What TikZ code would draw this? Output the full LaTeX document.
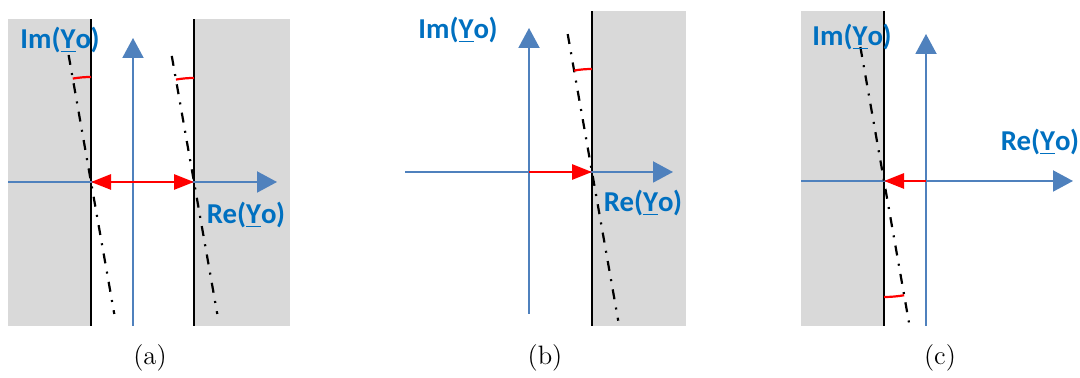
\documentclass[tikz,border=0pt]{standalone}
\usepackage{fontspec}
\usepackage{xcolor}
\usepackage{tikz}
\usetikzlibrary{arrows.meta, calc}
\newfontfamily\calfont{Carlito}
\definecolor{axisblue}{HTML}{4F81BD}
\definecolor{textblue}{HTML}{0070C0}
\definecolor{planegray}{HTML}{D9D9D9}
\def\tilt{10}
\newcommand{\Yo}{(\underline{Y}o)}
\newcommand{\tiltline}[5]{%
% #1 = crossing, #2 = length up, #3 = length down, #4 = arc radius, #5 = arc (1=top, 2=bottom)
\draw[limitline] ($(#1)+(90+\tilt:#2)$) -- ($(#1)+(-90+\tilt:#3)$);
\ifnum#5=1
\draw[anglearc] ($(#1)+(90:#4)$)
arc[start angle=90,end angle=90+\tilt,radius=#4];
\fi

% arc below the real axis
\ifnum#5=2
\draw[anglearc] ($(#1)+(-90:#4)$)
arc[start angle=-90,end angle=-90+\tilt,radius=#4];
\fi
}

\begin{document}
\begin{tikzpicture}[
    x=0.5pt, y=0.5pt,
    planeaxis/.style={axisblue, line width=1pt, -{Triangle[length=10pt,width=10.5pt]}},
    edgeline/.style={black, line width=1pt},
    limitline/.style={black, line width=1.1pt, dash pattern=on 5pt off 4.2pt on 1pt off 4.2pt},
    move/.style={red, line width=1.4pt, -{Triangle[length=10pt,width=7.5pt]}},
    anglearc/.style={red, line width=1.1pt},
    axlabel/.style={textblue, font=\calfont\bfseries\fontsize{14.4}{17}\selectfont, inner sep=0pt},
    caption/.style={font=\fontsize{13.3}{16}\selectfont, inner sep=0pt}
]
\useasboundingbox (0,0) rectangle (1080,378);

% panel (a)
\fill[planegray] (8,52) rectangle (290,359);
\fill[white] (91,52) rectangle (194,359);
\coordinate (Oa) at (133,196);
\coordinate (La) at (91,196);
\coordinate (Ra) at (194,196);
\draw[edgeline] (91,52) -- (91,359);
\draw[edgeline] (194,52) -- (194,359);
\draw[planeaxis] (8,196) -- (277,196);
\draw[planeaxis] (133,52) -- (133,340);
\tiltline{La}{129}{134}{105}{1}
\tiltline{Ra}{128}{134}{104}{1}
\draw[move, yshift=1pt] (Oa) -- (La);
\draw[move, yshift=-0.5pt] (Oa) -- (Ra);
\node[axlabel] (ima) at (60,338) {Im\Yo};
\node[axlabel] (rea) at (246,163) {Re\Yo};
\node[caption] (capa) at (150,20) {(a)};

% panel (b)
\fill[planegray] (592,52) rectangle (686,367);
\coordinate (Ob) at (529,206);
\coordinate (Rb) at (592,206);
\draw[edgeline] (592,52) -- (592,367);
\draw[planeaxis] (405,206) -- (673,206);
\draw[planeaxis] (529,64) -- (529,350);
\tiltline{Rb}{140}{151}{103}{1}
\draw[move] (Ob) -- (Rb);
\node[axlabel] (imb) at (458,348) {Im\Yo};
\node[axlabel] (reb) at (643,175) {Re\Yo};
\node[caption] (capb) at (545,20) {(b)};

% panel (c)
\fill[planegray] (801,52) rectangle (884,367);
\coordinate (Oc) at (926,197);
\coordinate (Lc) at (884,197);
\draw[edgeline] (884,52) -- (884,367);
\draw[planeaxis] (801,197) -- (1073,197);
\draw[planeaxis] (926,52) -- (926,344);
\tiltline{Lc}{136}{147}{116}{2}
\draw[move] (Oc) -- (Lc);
\node[axlabel] (imc) at (852,341) {Im\Yo};
\node[axlabel] (rec) at (1040,236) {Re\Yo};
\node[caption] (capc) at (940,20) {(c)};
\end{tikzpicture}
\end{document}
